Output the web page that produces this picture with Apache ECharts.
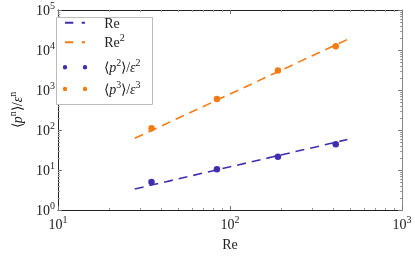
<!DOCTYPE html>
<html>
<head>
<meta charset="utf-8">
<script src="https://cdn.jsdelivr.net/npm/echarts@6/dist/echarts.min.js"></script>
<style>html,body{margin:0;padding:0;background:#fff}#c{width:415px;height:257px}</style>
</head>
<body>
<div id="c"></div>
<script>
// ---- data ----
const lineX = [28, 482];            // extent of the fitted scaling lines (Re)
const lineRe = [3.36, 57.8];        // Re scaling line
const lineRe2 = [62, 18400];        // Re^2 scaling line
const pointsX = [35, 84, 190, 412]; // Re of the measurements
const p2 = [5.0, 10.5, 21.5, 44];   // <p^2>/eps^2
const p3 = [111, 594, 3080, 12400]; // <p^3>/eps^3
const xMajor = [10, 100, 1000];
const yMajor = [1, 10, 100, 1000, 10000, 100000];
const xMinor = [20,30,40,50,60,70,80,90,200,300,400,500,600,700,800,900];
const yMinor = [2,3,4,5,6,7,8,9,20,30,40,50,60,70,80,90,200,300,400,500,600,700,800,900,
  2000,3000,4000,5000,6000,7000,8000,9000,20000,30000,40000,50000,60000,70000,80000,90000];
const seriesNames = ['Re', 'Re2', 'p2', 'p3'];

const BLUE = '#3f2fb0', ORANGE = '#f57c14';
const FONT = 'Liberation Serif';
const pair = (xs, ys) => xs.map((x, i) => [x, ys[i]]);
const supRich = {
  b: {fontFamily: FONT, fontSize: 14, color: '#222', lineHeight: 17, verticalAlign: 'bottom'},
  s: {fontFamily: FONT, fontSize: 10, color: '#222', lineHeight: 17, verticalAlign: 'top'},
  i: {fontFamily: FONT, fontSize: 14, fontStyle: 'italic', color: '#222', lineHeight: 17, verticalAlign: 'bottom'}
};
const expLabel = v => '{b|10}{s|' + Math.round(Math.log10(v)) + '}';

function axisPair(kind, pos, major, minor, showLabel, lineColor) {
  const base = {
    type: 'log', logBase: 10, position: pos,
    min: kind === 'x' ? 10 : 1, max: kind === 'x' ? 1000 : 100000,
    splitLine: {show: false}, minorTick: {show: false}
  };
  const a1 = Object.assign({}, base, {
    axisLine: {show: true, lineStyle: {color: lineColor, width: 1}},
    axisTick: {show: true, inside: true, length: 4, customValues: major, lineStyle: {color: '#777'}},
    axisLabel: showLabel ? {show: true, customValues: major, formatter: expLabel, rich: supRich, margin: kind === 'x' ? 5 : 3} : {show: false}
  });
  const a2 = Object.assign({}, base, {
    axisLine: {show: false},
    axisTick: {show: true, inside: true, length: 2, customValues: minor, lineStyle: {color: '#999'}},
    axisLabel: {show: false}
  });
  return [a1, a2];
}

const xAxes = [...axisPair('x', 'bottom', xMajor, xMinor, true, '#222'), ...axisPair('x', 'top', xMajor, xMinor, false, '#222')];
xAxes[0].name = 'Re';
xAxes[0].nameLocation = 'middle';
xAxes[0].nameGap = 28;
xAxes[0].nameTextStyle = {fontFamily: FONT, fontSize: 14, color: '#222'};
const yAxes = [...axisPair('y', 'left', yMajor, yMinor, true, '#222'), ...axisPair('y', 'right', yMajor, yMinor, false, '#888')];
yAxes[0].name = '{b|⟨}{i|p}{s|n}{b|⟩/}{i|ε}{s|n}';
yAxes[0].nameLocation = 'middle';
yAxes[0].nameGap = 30;
yAxes[0].nameTextStyle = {rich: supRich};

const legendNames = {
  Re: '{b|Re}',
  Re2: '{b|Re}{s|2}',
  p2: '{b|⟨}{i|p}{s|2}{b|⟩/}{i|ε}{s|2}',
  p3: '{b|⟨}{i|p}{s|3}{b|⟩/}{i|ε}{s|3}'
};
const legendColors = [BLUE, ORANGE, BLUE, ORANGE];
const legendTops = [17.2, 33.8, 58.8, 80.5];
const pad = 'M0,0h0.01v0.01h-0.01z M24.39,4.39h0.01v0.01h-0.01z ';
const dashIcon = 'path://' + pad + 'M2.2,1.2h8.3v2h-8.3z M18.9,1.2h3.3v2h-3.3z';
const dotIcon = 'path://M0,2.2a2.2,2.2 0 1,0 4.4,0a2.2,2.2 0 1,0 -4.4,0z M20,2.2a2.2,2.2 0 1,0 4.4,0a2.2,2.2 0 1,0 -4.4,0z';
const legendIcons = [dashIcon, dashIcon, dotIcon, dotIcon];

const legends = seriesNames.map((n, i) => ({
  orient: 'vertical', left: 62.8, top: legendTops[i], padding: 0, z: 10,
  itemWidth: 24.4, itemHeight: 4.4,
  textStyle: {rich: supRich, padding: [0, 0, 0, 12]},
  formatter: nm => legendNames[nm],
  data: [{name: n, icon: legendIcons[i], itemStyle: {color: legendColors[i], opacity: 1}}]
}));

const chart = echarts.init(document.getElementById('c'), null, {renderer: 'canvas'});
chart.setOption({
  animation: false,
  backgroundColor: '#fff',
  grid: {left: 49, right: 13, top: 10, bottom: 41, containLabel: false},
  xAxis: xAxes,
  yAxis: yAxes,
  legend: legends,
  graphic: [{
    type: 'rect', left: 56, top: 17, z: 3,
    shape: {width: 96, height: 87},
    style: {fill: '#fff', stroke: '#bbb', lineWidth: 1}
  }],
  series: [
    {name: 'Re', type: 'line', data: pair(lineX, lineRe), showSymbol: false, symbol: 'none',
     lineStyle: {color: BLUE, width: 1.6, type: [9, 6]}, itemStyle: {color: BLUE}},
    {name: 'Re2', type: 'line', data: pair(lineX, lineRe2), showSymbol: false, symbol: 'none',
     lineStyle: {color: ORANGE, width: 1.6, type: [9, 6]}, itemStyle: {color: ORANGE}},
    {name: 'p2', type: 'scatter', data: pair(pointsX, p2), symbol: 'circle', symbolSize: 6.5, itemStyle: {color: BLUE, opacity: 1}},
    {name: 'p3', type: 'scatter', data: pair(pointsX, p3), symbol: 'circle', symbolSize: 6.5, itemStyle: {color: ORANGE, opacity: 1}}
  ]
});
</script>
</body>
</html>
